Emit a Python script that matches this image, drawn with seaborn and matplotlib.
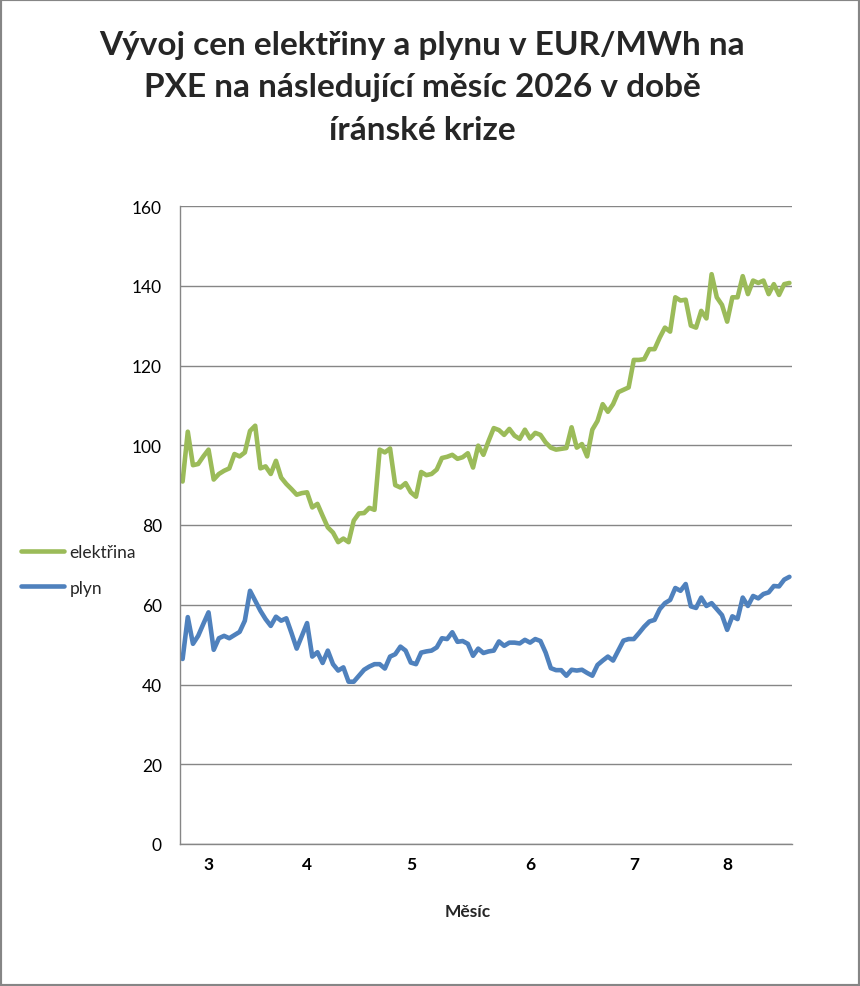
import numpy as np
import pandas as pd
import matplotlib
matplotlib.use('Agg')
import matplotlib.pyplot as plt
import seaborn as sns
from matplotlib.patches import Rectangle
from matplotlib.lines import Line2D

# denni ceny (EUR/MWh)
elektrina = [90.9, 103.4, 95.0, 95.3, 97.2, 98.9, 91.4, 92.8, 93.6, 94.2,
             97.8, 97.2, 98.2, 103.6, 104.9, 94.2, 94.7, 92.8, 96.1, 91.9,
             90.3, 89.0, 87.6, 88.0, 88.2, 84.4, 85.3, 82.3, 79.4, 78.1,
             75.7, 76.6, 75.7, 81.1, 82.9, 83.0, 84.3, 83.8, 98.9, 98.2,
             99.2, 90.0, 89.4, 90.5, 88.2, 87.1, 93.3, 92.5, 92.8, 93.9,
             96.8, 97.1, 97.6, 96.6, 97.0, 98.0, 94.4, 99.9, 97.6, 101.1,
             104.3, 103.8, 102.6, 104.1, 102.4, 101.6, 103.9, 101.7, 103.1, 102.6,
             100.7, 99.4, 98.9, 99.1, 99.3, 104.5, 99.4, 100.3, 97.2, 103.9,
             106.1, 110.3, 108.4, 110.3, 113.3, 113.9, 114.5, 121.4, 121.4, 121.6,
             124.1, 124.1, 127.0, 129.5, 128.5, 137.1, 136.3, 136.5, 130.0, 129.5,
             133.7, 131.8, 142.9, 137.1, 135.2, 131.0, 137.1, 137.1, 142.4, 137.9,
             141.3, 140.7, 141.3, 137.9, 140.4, 137.7, 140.4, 140.7]

plyn = [46.4, 56.9, 50.2, 52.2, 55.2, 58.1, 48.7, 51.6, 52.2, 51.6,
        52.4, 53.2, 56.0, 63.5, 61.0, 58.5, 56.4, 54.7, 57.0, 56.0,
        56.6, 52.9, 49.0, 52.2, 55.4, 47.0, 48.1, 45.4, 48.5, 45.1,
        43.5, 44.3, 40.7, 40.7, 42.2, 43.7, 44.5, 45.1, 45.1, 44.0,
        47.0, 47.6, 49.5, 48.5, 45.5, 45.1, 48.0, 48.3, 48.5, 49.3,
        51.6, 51.4, 53.1, 50.7, 50.9, 50.2, 47.2, 49.0, 47.9, 48.3,
        48.5, 50.8, 49.7, 50.5, 50.5, 50.3, 51.2, 50.5, 51.4, 50.9,
        48.0, 44.1, 43.6, 43.6, 42.2, 43.7, 43.5, 43.7, 42.9, 42.2,
        44.9, 46.0, 47.0, 46.0, 48.5, 51.0, 51.4, 51.4, 52.9, 54.5,
        55.8, 56.2, 58.9, 60.4, 61.2, 64.2, 63.5, 65.2, 59.6, 59.2,
        61.8, 59.7, 60.4, 58.9, 57.4, 53.7, 57.1, 56.4, 61.8, 59.7,
        62.2, 61.6, 62.7, 63.1, 64.7, 64.6, 66.3, 67.0]

month_ticks = [5, 24, 44, 67, 87, 105]
month_labels = ['3', '4', '5', '6', '7', '8']
serie = ['elektřina', 'plyn']
barvy = {'elektřina': '#9BBB59', 'plyn': '#4F81BD'}

den = np.arange(len(elektrina))
df = pd.DataFrame({
    'den': np.concatenate([den, den]),
    'cena': elektrina + plyn,
    'serie': [serie[0]] * len(elektrina) + [serie[1]] * len(plyn),
})

sns.set_theme(style='white')
plt.rcParams['font.family'] = ['Lato', 'DejaVu Sans']

fig = plt.figure(figsize=(8.6, 9.87), dpi=100)
ax = fig.add_axes([180 / 860, 142 / 987, 612 / 860, 638 / 987])

sns.lineplot(data=df, x='den', y='cena', hue='serie', palette=barvy,
             linewidth=3.3, ax=ax, legend=False)

ax.set_xlim(-0.5, len(elektrina) - 0.5)
ax.set_ylim(0, 160)
ax.set_yticks(range(0, 161, 20))
ax.yaxis.grid(True, color='#868686', linewidth=1)
ax.xaxis.grid(False)
ax.set_axisbelow(True)
ax.set_xticks(month_ticks)
ax.set_xticklabels(month_labels, fontweight='bold', fontsize=12.5)
ax.tick_params(axis='y', labelsize=12.5, length=0, pad=13, labelcolor='black')
ax.tick_params(axis='x', length=0, pad=9, labelcolor='black')
ax.set_xlabel('')
ax.set_ylabel('')
for s in ['top', 'right']:
    ax.spines[s].set_visible(False)
for s in ['left', 'bottom']:
    ax.spines[s].set_color('#868686')
    ax.spines[s].set_linewidth(1)

fig.text(468 / 860, 1 - 912 / 987, 'Měsíc', ha='center', va='center',
         fontsize=12.5, fontweight='bold')

fig.text(422 / 860, 1 - 88 / 987,
         'Vývoj cen elektřiny a plynu v EUR/MWh na\nPXE na následující měsíc 2026 v době\níránské krize',
         ha='center', va='center', fontsize=24, fontweight='bold', linespacing=1.55)

handles = [Line2D([], [], color=barvy[s], linewidth=3.3) for s in serie]
fig.legend(handles, serie, loc='center left', bbox_to_anchor=(21 / 860, 1 - 571 / 987),
           frameon=False, fontsize=12.5, handlelength=2.5, handletextpad=0.3,
           labelspacing=1.1, borderpad=0, borderaxespad=0)

fig.add_artist(Rectangle((0, 0), 1, 1, transform=fig.transFigure, fill=False,
                         edgecolor='#868686', linewidth=3))

fig.savefig('out.png', dpi=100)
